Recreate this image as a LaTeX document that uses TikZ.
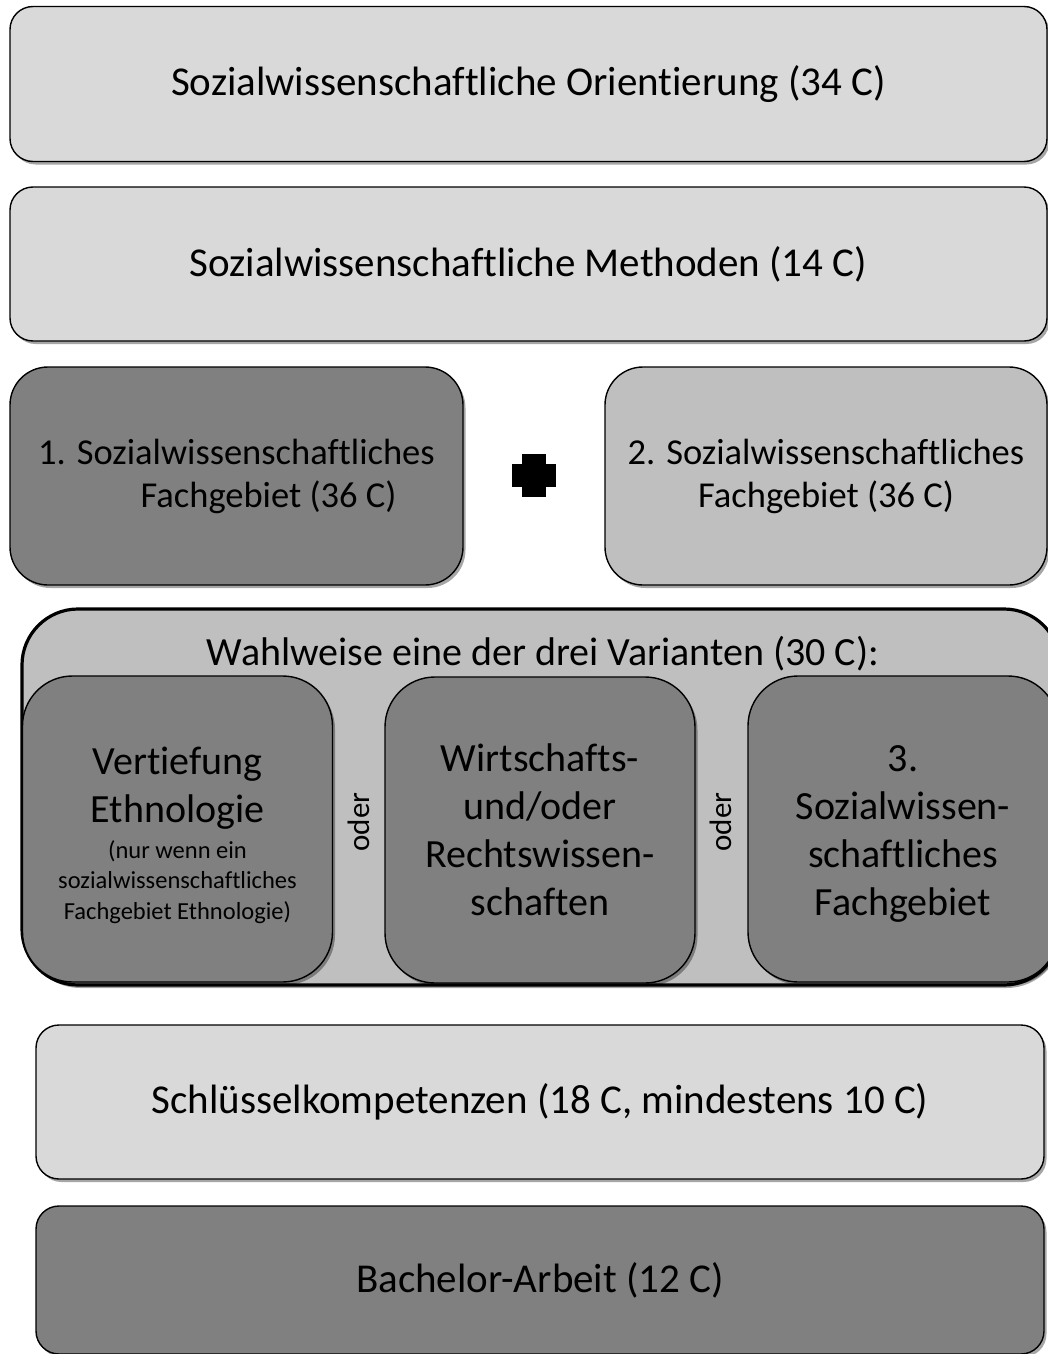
\documentclass[tikz,border=0pt]{standalone}
\usepackage{fontspec}
\setmainfont{Carlito}[Ligatures=NoCommon]
\usepackage{tikz}
\usetikzlibrary{shadows}
\definecolor{hellgrau}{HTML}{D9D9D9}
\definecolor{mittelgrau}{HTML}{BFBFBF}
\definecolor{dunkelgrau}{HTML}{808080}
\tikzset{
	schatten/.style={drop shadow={shadow xshift=2.5pt,shadow yshift=-3pt,opacity=0.35,fill=black}},
	kasten/.style={draw=black,line width=1.4pt,schatten,inner sep=0pt,align=center,
		font=\fontsize{41pt}{50pt}\selectfont},
	hellkasten/.style={kasten,fill=hellgrau,rounded corners=23pt},
	fachkasten/.style={kasten,rounded corners=38pt,minimum width=453pt,minimum height=218pt,
		font=\fontsize{36.5pt}{43pt}\selectfont},
	variante/.style={kasten,fill=dunkelgrau,rounded corners=50pt,minimum width=310pt,minimum height=306pt,
		font=\fontsize{40pt}{48pt}\selectfont},
	innentext/.style={inner sep=0pt,align=center,font=\fontsize{40pt}{48pt}\selectfont},
	kleintext/.style={inner sep=0pt,align=center,font=\fontsize{24.5pt}{30.5pt}\selectfont},
	oderlabel/.style={rotate=90,inner sep=0pt,font=\fontsize{31pt}{37pt}\selectfont}
}
\begin{document}
\begin{tikzpicture}[x=1pt,y=-1pt]
	\useasboundingbox (0,0) rectangle (1048,1354);
	\node[hellkasten,minimum width=1037pt,minimum height=155pt] (orient) at (528.5,84) {Sozialwissenschaftliche Orientierung (34 C)};
	\node[hellkasten,minimum width=1037pt,minimum height=154pt] (method) at (528.5,264) {Sozialwissenschaftliche Methoden (14 C)};
	\node[fachkasten,fill=dunkelgrau] (fach1) at (236.5,476) {1. Sozialwissenschaftliches\\\hspace*{64pt}Fachgebiet (36 C)};
	\node[fachkasten,fill=mittelgrau,minimum width=442pt] (fach2) at (826,476) {2. Sozialwissenschaftliches\\Fachgebiet (36 C)};
	\fill (512,464) rectangle (556,487);
	\fill (522,454) rectangle (546,497);
	\node[kasten,fill=mittelgrau,line width=3.2pt,rounded corners=56pt,minimum width=1038pt,minimum height=376pt] (wahl) at (541,797) {};
	\node[innentext] (wahltitel) at (543,654) {Wahlweise eine der drei Varianten (30 C):};
	\node[variante] (ethno) at (177.5,829) {};
	\node[innentext] (ethnotitel) at (177.5,788) {Vertiefung\\Ethnologie};
	\node[kleintext] (ethnohinweis) at (177.5,882) {(nur wenn ein\\sozialwissenschaftliches\\Fachgebiet Ethnologie)};
	\node[variante] (wirt) at (540,830) {Wirtschafts-\\und/oder\\Rechtswissen-\\schaften};
	\node[variante] (drei) at (903,829) {};
	\node[innentext] (dreitext) at (903,834) {3.\\Sozialwissen-\\schaftliches\\Fachgebiet};
	\node[oderlabel] (oder1) at (359,822) {oder};
	\node[oderlabel] (oder2) at (721,822) {oder};
	\node[hellkasten,minimum width=1008pt,minimum height=154pt] (schluessel) at (540,1102) {Schlüsselkompetenzen (18 C, mindestens 10 C)};
	\node[kasten,fill=dunkelgrau,rounded corners=23pt,minimum width=1008pt,minimum height=148pt] (bachelor) at (540,1280) {Bachelor-Arbeit (12 C)};
\end{tikzpicture}
\end{document}
